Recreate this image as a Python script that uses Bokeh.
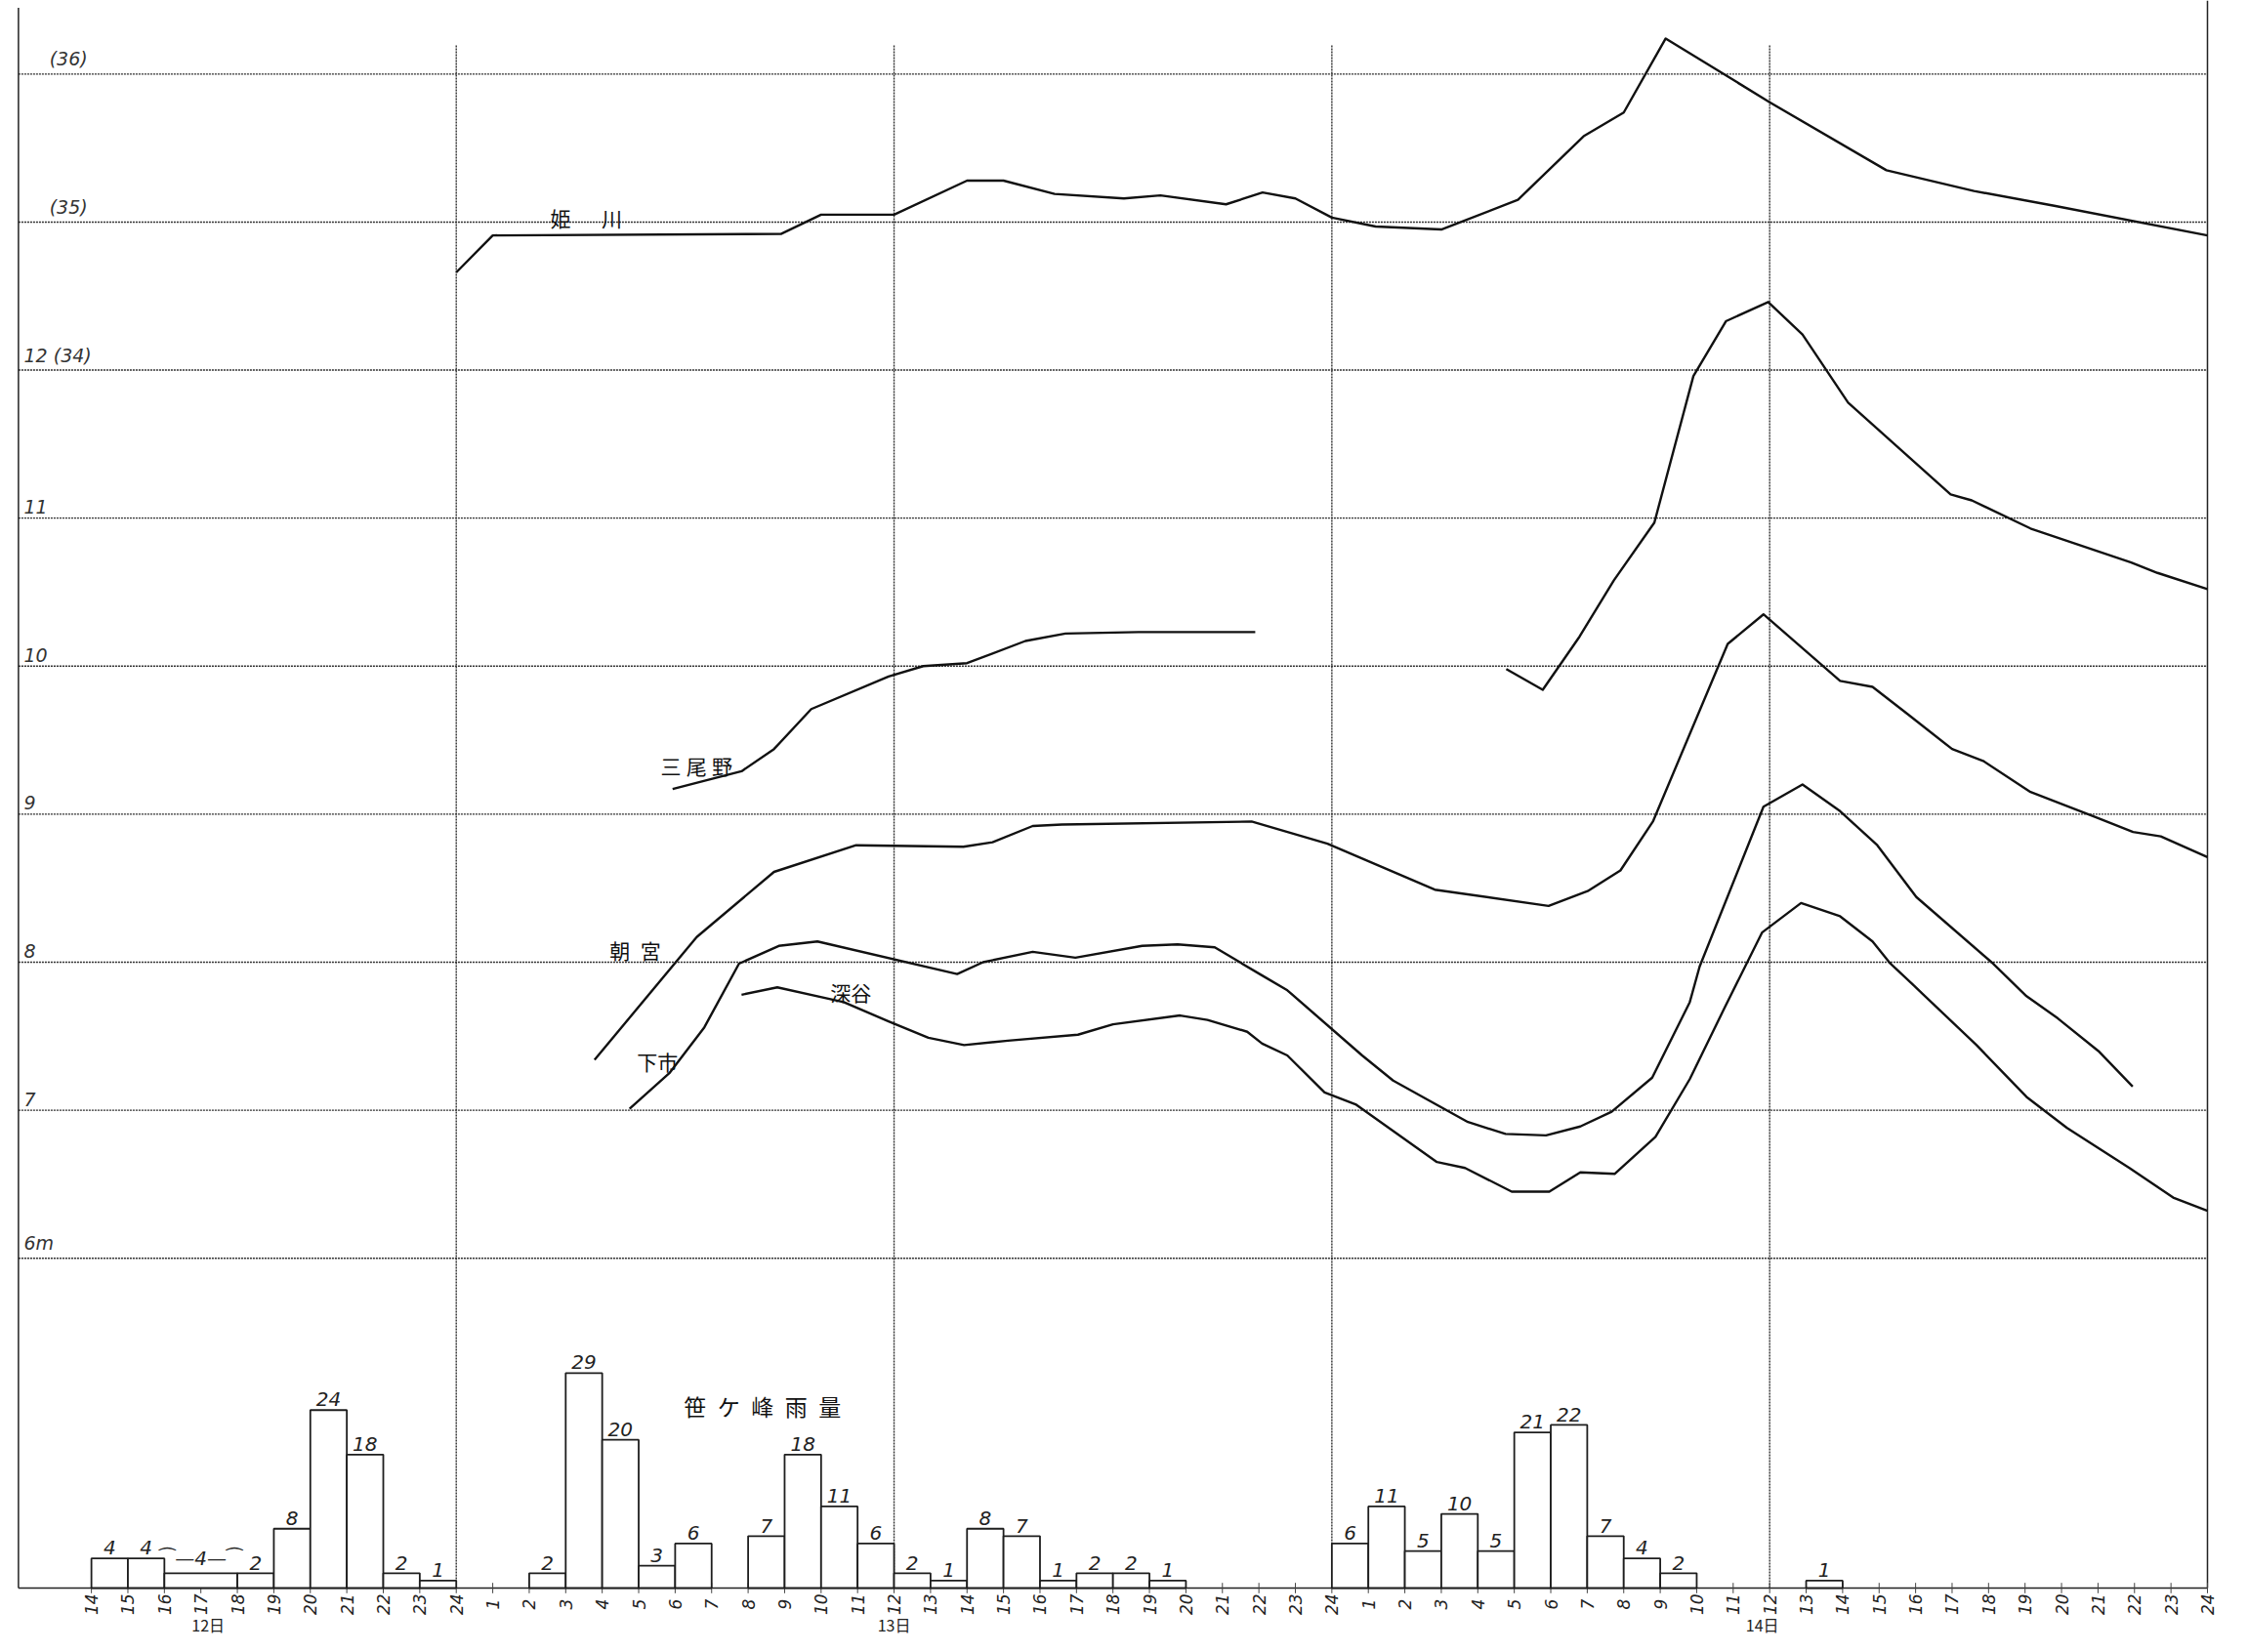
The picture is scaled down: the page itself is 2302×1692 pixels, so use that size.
import math
from bokeh.plotting import figure
from bokeh.models import Range1d
from bokeh.core.properties import value
from bokeh.embed import file_html
from bokeh.resources import INLINE

NaN = float("nan")

# ---------------- data (hours counted from 12日 0時) ----------------
# 姫川 (right-hand scale in parentheses, m)
hime_h = [24.0, 25.0, 32.9, 34.0, 36.0, 38.0, 39.0, 40.4, 42.3, 43.3, 45.1, 46.1, 47.0, 48.0,
          49.2, 51.0, 53.1, 54.9, 56.0, 57.15, 60.0, 63.2, 65.6, 67.8, 72.0]
hime_v = [34.66, 34.91, 34.92, 35.05, 35.05, 35.28, 35.28, 35.19, 35.16, 35.18, 35.12, 35.20, 35.16, 35.03,
          34.97, 34.95, 35.15, 35.58, 35.74, 36.24, 35.81, 35.35, 35.21, 35.11, 34.91]

# 三尾野
mio_h = [29.93, 31.82, 32.71, 33.73, 35.85, 36.8, 38.0, 39.6, 40.7, 42.7, 45.9, NaN,
         52.78, 53.78, 54.79, 55.73, 56.84, 57.91, 58.80, 59.96, 60.90, 62.15, 64.96, 65.54,
         67.15, 69.91, 70.63, 72.0]
mio_v = [9.17, 9.29, 9.44, 9.71, 9.93, 10.0, 10.02, 10.17, 10.22, 10.23, 10.23, NaN,
         9.98, 9.84, 10.20, 10.58, 10.97, 11.96, 12.33, 12.46, 12.24, 11.78, 11.16, 11.12,
         10.93, 10.70, 10.63, 10.52]

# 朝宮
asa_h = [27.79, 30.59, 32.71, 34.96, 37.9, 38.7, 39.8, 40.6, 45.8, 47.88, 50.82, 53.94, 55.01,
         55.91, 56.80, 58.85, 59.83, 61.93, 62.82, 63.76, 65.0, 65.85, 67.15, 68.93, 69.96, 70.72, 72.0]
asa_v = [7.34, 8.17, 8.61, 8.79, 8.78, 8.81, 8.92, 8.93, 8.95, 8.80, 8.49, 8.38, 8.48,
         8.62, 8.95, 10.15, 10.35, 9.90, 9.86, 9.68, 9.44, 9.36, 9.15, 8.98, 8.88, 8.85, 8.71]

# 下市
shimo_h = [28.75, 29.84, 30.8, 31.75, 32.84, 33.9, 37.73, 38.44, 39.8, 40.97, 42.8, 43.77, 44.79,
           46.09, 46.78, 48.83, 49.68, 51.73, 52.76, 53.87, 54.81, 55.67, 56.78, 57.81, 58.08,
           59.83, 60.9, 61.93, 62.95, 64.02, 66.08, 67.04, 67.9, 69.01, 69.95]
shimo_v = [7.01, 7.25, 7.56, 7.99, 8.11, 8.14, 7.92, 8.0, 8.07, 8.03, 8.11, 8.12, 8.10,
           7.91, 7.81, 7.37, 7.20, 6.92, 6.84, 6.83, 6.89, 6.99, 7.22, 7.73, 7.97,
           9.05, 9.20, 9.02, 8.79, 8.44, 8.00, 7.77, 7.62, 7.40, 7.16]

# 深谷
fuka_h = [31.82, 32.8, 34.62, 35.85, 36.94, 37.92, 39.12, 41.04, 42.0, 43.84, 44.59, 45.68,
          46.09, 46.78, 47.8, 48.65, 50.88, 51.65, 52.93, 53.96, 54.81, 55.75, 56.87, 57.81,
          58.76, 59.79, 60.86, 61.93, 62.82, 63.31, 63.96, 65.67, 67.04, 68.15, 69.86, 71.06, 72.0]
fuka_v = [7.78, 7.83, 7.73, 7.60, 7.49, 7.44, 7.47, 7.51, 7.58, 7.64, 7.61, 7.53,
          7.45, 7.37, 7.12, 7.04, 6.65, 6.61, 6.45, 6.45, 6.58, 6.57, 6.82, 7.21,
          7.69, 8.20, 8.40, 8.31, 8.14, 7.99, 7.84, 7.44, 7.09, 6.88, 6.61, 6.41, 6.32]

# 笹ケ峰雨量 (mm / hour)
rain_start = [14, 15, 16, 18, 19, 20, 21, 22, 23,
              26, 27, 28, 29, 30, 32, 33, 34, 35, 36, 37, 38, 39, 40, 41, 42, 43,
              48, 49, 50, 51, 52, 53, 54, 55, 56, 57, 61]
rain_end = [15, 16, 18, 19, 20, 21, 22, 23, 24,
            27, 28, 29, 30, 31, 33, 34, 35, 36, 37, 38, 39, 40, 41, 42, 43, 44,
            49, 50, 51, 52, 53, 54, 55, 56, 57, 58, 62]
rain_mm = [4, 4, 2, 2, 8, 24, 18, 2, 1,
           2, 29, 20, 3, 6, 7, 18, 11, 6, 2, 1, 8, 7, 1, 2, 2, 1,
           6, 11, 5, 10, 5, 21, 22, 7, 4, 2, 1]
rain_label = ["4", "4", "⁀—4—⁀", "2", "8", "24", "18", "2", "1",
              "2", "29", "20", "3", "6", "7", "18", "11", "6", "2", "1", "8", "7", "1", "2", "2", "1",
              "6", "11", "5", "10", "5", "21", "22", "7", "4", "2", "1"]

# axis ticks / labels
level_ticks = [14, 13, 12, 11, 10, 9, 8, 7, 6]
level_labels = ["(36)", "(35)", "12 (34)", "11", "10", "9", "8", "7", "6m"]
hour_ticks = list(range(14, 73))
hour_labels = [str(h if h <= 24 else (h - 24 if h <= 48 else h - 48)) for h in hour_ticks]
day_pos = [17.2, 36.0, 59.8]
day_labels = ["12日", "13日", "14日"]
day_lines = [24, 36, 48, 60]

# ---------------- figure ----------------
LEV = (3.442, 14.497)
BASE = 3.7718          # level where rain = 0
MM = 0.050086          # level units per mm of rain
HOFF = 22.0            # 姫川 scale offset

p = figure(width=2286, height=1676, output_backend="svg", toolbar_location=None,
           x_range=Range1d(11.5075, 72.696), y_range=Range1d(*LEV),
           x_axis_type=None, y_axis_type=None, min_border=0)
p.outline_line_color = None
p.background_fill_color = "white"
p.border_fill_color = "white"
p.extra_y_ranges = {
    "rain": Range1d((LEV[0] - BASE) / MM, (LEV[1] - BASE) / MM),
    "hime": Range1d(LEV[0] + HOFF, LEV[1] + HOFF),
}
RTOP = (LEV[1] - BASE) / MM

GRID = dict(line_color="#2e2e2e", line_width=1.4, line_dash="2 1")

# horizontal grid lines
p.segment(x0=[12] * len(level_ticks), x1=[72] * len(level_ticks),
          y0=level_ticks, y1=level_ticks, **GRID)
# vertical 12h lines
p.segment(x0=day_lines, x1=day_lines, y0=[0] * 4, y1=[RTOP - 6] * 4,
          y_range_name="rain", **GRID)
# frame lines: left axis, right border, baseline
p.segment(x0=[12, 72], x1=[12, 72], y0=[0, 0], y1=[RTOP - 1, RTOP],
          y_range_name="rain", line_color="#222", line_width=1.5)
p.segment(x0=[12], x1=[72], y0=[0], y1=[0], y_range_name="rain",
          line_color="#222", line_width=1.6)
p.segment(x0=hour_ticks, x1=hour_ticks, y0=[-0.7] * len(hour_ticks), y1=[0.7] * len(hour_ticks),
          y_range_name="rain", line_color="#444", line_width=1.0)

# rain bars
p.quad(left=rain_start, right=rain_end, bottom=[0] * len(rain_mm), top=rain_mm,
       y_range_name="rain", fill_color="white", line_color="#1e1e1e", line_width=1.8)
p.text(x=[(a + b) / 2 for a, b in zip(rain_start, rain_end)], y=[m + 0.5 for m in rain_mm],
       text=rain_label, y_range_name="rain", text_align="center", text_baseline="bottom",
       text_font=value("DejaVu Sans"), text_font_style="italic",
       text_font_size=value("20px"), text_color="#222")

# water level lines
LINE = dict(line_color="#111", line_width=2.4, line_join="round")
p.line(hime_h, hime_v, y_range_name="hime", **LINE)
p.line(mio_h, mio_v, **LINE)
p.line(asa_h, asa_v, **LINE)
p.line(shimo_h, shimo_v, **LINE)
p.line(fuka_h, fuka_v, **LINE)

# y labels (hand-written style)
lx = [12.85 if l.startswith("(") else 12.15 for l in level_labels]
p.text(x=lx, y=[t + 0.03 for t in level_ticks], text=level_labels,
       text_align="left", text_baseline="bottom",
       text_font=value("DejaVu Sans"), text_font_style="italic",
       text_font_size=value("19px"), text_color="#333")

# hour labels and day labels
p.text(x=hour_ticks, y=[-2.2] * len(hour_ticks), text=hour_labels, y_range_name="rain",
       angle=math.pi / 2, text_align="center", text_baseline="middle",
       text_font=value("DejaVu Sans"), text_font_style="italic",
       text_font_size=value("17px"), text_color="#222")
p.text(x=day_pos, y=[-5.0] * 3, text=day_labels, y_range_name="rain",
       text_align="center", text_baseline="middle",
       text_font=value("Noto Sans CJK JP"), text_font_size=value("16px"), text_color="#222")

# station names
JP = dict(text_font=value("Noto Sans CJK JP"), text_font_size=value("21px"),
          text_color="#111", text_align="left", text_baseline="middle")
p.text(x=[26.58], y=[35.03], text=["姫\u3000\u2002川"], y_range_name="hime", **JP)
p.text(x=[29.6], y=[9.33], text=["三\u2005尾\u2005野"], **JP)
p.text(x=[28.2], y=[8.08], text=["朝\u2002宮"], **JP)
p.text(x=[28.95], y=[7.33], text=["下市"], **JP)
p.text(x=[34.25], y=[7.80], text=["深谷"], **JP)
p.text(x=[32.39], y=[24.5], text=["笹\u2002ケ\u2002峰\u2002雨\u2002量"], y_range_name="rain",
       text_font=value("Noto Sans CJK JP"), text_font_size=value("23px"),
       text_color="#111", text_align="center", text_baseline="middle")

open("out.html", "w").write(file_html(p, INLINE))
